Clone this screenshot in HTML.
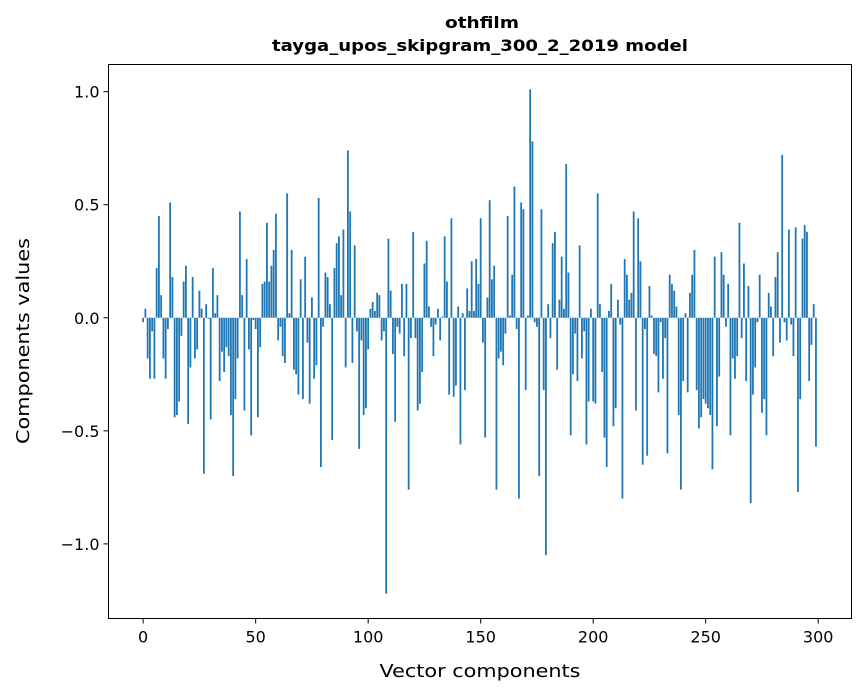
<!DOCTYPE html>
<html><head><meta charset="utf-8"><style>
body{margin:0;background:#fff;}
svg{display:block;font-family:"DejaVu Sans","Liberation Sans",sans-serif;}
</style></head><body>
<svg id="chart" width="867" height="696" viewBox="0 0 867 696" xmlns="http://www.w3.org/2000/svg">
<rect width="867" height="696" fill="#fff"/>
<text x="482" y="28" text-anchor="middle" font-size="16" font-weight="bold" textLength="74" lengthAdjust="spacingAndGlyphs">othfilm</text>
<text x="480" y="51" text-anchor="middle" font-size="16" font-weight="bold" textLength="416" lengthAdjust="spacingAndGlyphs">tayga_upos_skipgram_300_2_2019 model</text>
<g id="bars"></g>
<g id="axes"></g>
<rect x="108.5" y="64.5" width="743" height="554" fill="none" stroke="#000" stroke-width="1"/>
<text x="480" y="677" text-anchor="middle" font-size="18" textLength="201" lengthAdjust="spacingAndGlyphs">Vector components</text>
<text transform="translate(29,341) rotate(-90)" text-anchor="middle" font-size="18" textLength="206" lengthAdjust="spacingAndGlyphs">Components values</text>
</svg>
<script>
const values = [
-0.02,0.04,-0.18,-0.27,-0.06,-0.27,0.22,0.45,0.10,-0.18,
-0.27,-0.05,0.51,0.18,-0.44,-0.43,-0.37,-0.08,0.16,0.23,
-0.47,-0.22,0.18,-0.18,-0.14,0.12,0.04,-0.69,0.06,-0.005,
-0.45,0.22,0.02,0.10,-0.28,-0.15,-0.24,-0.13,-0.17,-0.43,
-0.70,-0.36,-0.18,0.47,0.10,-0.41,0.26,-0.14,-0.52,-0.01,
-0.05,-0.44,-0.13,0.15,0.16,0.42,0.16,0.23,0.30,0.46,
-0.10,-0.04,-0.17,-0.20,0.55,0.02,0.30,-0.23,-0.25,-0.34,
0.17,-0.36,0.27,-0.11,-0.38,0.09,-0.27,-0.21,0.53,-0.66,
-0.04,0.20,0.18,0.06,-0.54,0.22,0.33,0.36,0.10,0.39,
-0.22,0.74,0.47,-0.20,0.32,-0.06,-0.58,-0.10,-0.43,-0.40,
-0.14,0.04,0.07,0.03,0.11,0.10,-0.10,-0.06,-1.22,0.35,
0.12,-0.16,-0.46,-0.04,-0.07,0.15,-0.17,0.15,-0.76,-0.09,
0.38,-0.09,-0.41,-0.38,-0.24,0.24,0.34,0.05,-0.04,-0.17,
-0.03,0.04,-0.10,0.005,0.36,0.16,-0.34,0.44,-0.35,-0.30,
0.05,-0.56,0.02,-0.32,0.13,0.03,0.25,0.03,0.26,0.15,
0.44,-0.11,-0.53,0.09,0.52,0.17,0.23,-0.76,-0.18,-0.15,
-0.21,-0.07,0.45,0.01,0.19,0.58,-0.05,-0.80,0.51,0.48,
-0.32,0.01,1.01,0.78,-0.02,-0.04,-0.70,0.48,-0.32,-1.05,
0.06,-0.09,0.33,0.38,-0.23,0.08,0.27,0.04,0.68,0.20,
-0.52,-0.25,-0.07,-0.28,0.32,-0.18,-0.06,-0.56,-0.37,0.04,
-0.37,-0.38,0.55,0.06,-0.24,-0.53,-0.66,0.03,0.15,-0.48,
-0.40,0.08,-0.03,-0.80,0.26,0.19,0.08,0.11,0.47,-0.41,
0.44,0.25,-0.65,-0.05,-0.61,0.14,0.01,-0.16,-0.17,-0.33,
-0.02,-0.27,-0.09,-0.60,0.19,0.15,0.12,0.05,-0.43,-0.76,
-0.28,0.02,-0.33,0.11,0.19,0.30,-0.32,-0.49,-0.44,-0.36,
-0.38,-0.40,-0.43,-0.67,0.27,-0.48,-0.26,0.29,0.19,-0.04,
0.15,-0.52,-0.18,-0.27,-0.17,0.42,-0.09,0.24,-0.28,0.14,
-0.82,-0.34,-0.22,-0.02,0.19,-0.42,-0.36,-0.52,0.11,0.05,
-0.17,0.18,0.29,-0.11,0.72,-0.02,-0.10,0.39,-0.03,-0.17,
0.40,-0.77,-0.36,0.35,0.41,0.38,-0.28,-0.12,0.06,-0.57
];
const xTicks = [0,50,100,150,200,250,300];
const yTicks = [-1.0,-0.5,0.0,0.5,1.0];
const yTickLabels = ["\u22121.0","\u22120.5","0.0","0.5","1.0"];

const NS = "http://www.w3.org/2000/svg";
const xMin = -15.4, xMax = 314.8, yMin = -1.33, yMax = 1.12;
const L = 108.5, R = 851.5, T = 64.5, B = 618.5;
function xs(v){ return L + (v - xMin) / (xMax - xMin) * (R - L); }
function ys(v){ return B - (v - yMin) / (yMax - yMin) * (B - T); }

const barsG = document.getElementById('bars');
values.forEach(function(v, i){
  const r = document.createElementNS(NS, 'rect');
  const x0 = xs(i - 0.4), x1 = xs(i + 0.4);
  const y0 = ys(Math.max(v, 0)), y1 = ys(Math.min(v, 0));
  r.setAttribute('x', x0);
  r.setAttribute('width', x1 - x0);
  r.setAttribute('y', y0);
  r.setAttribute('height', Math.max(y1 - y0, 0.01));
  r.setAttribute('fill', '#1f77b4');
  
  
  barsG.appendChild(r);
});

const axesG = document.getElementById('axes');
xTicks.forEach(function(t){
  const x = xs(t);
  const l = document.createElementNS(NS, 'line');
  l.setAttribute('x1', x); l.setAttribute('x2', x);
  l.setAttribute('y1', B); l.setAttribute('y2', B + 5);
  l.setAttribute('stroke', '#000');
  
  
  axesG.appendChild(l);
  const tx = document.createElementNS(NS, 'text');
  tx.setAttribute('x', x); tx.setAttribute('y', B + 24);
  tx.setAttribute('text-anchor', 'middle');
  tx.setAttribute('font-size', '16');
  tx.textContent = String(t);
  
  
  axesG.appendChild(tx);
});
yTicks.forEach(function(t, k){
  const y = ys(t);
  const l = document.createElementNS(NS, 'line');
  l.setAttribute('x1', L - 5); l.setAttribute('x2', L);
  l.setAttribute('y1', y); l.setAttribute('y2', y);
  l.setAttribute('stroke', '#000');
  
  
  axesG.appendChild(l);
  const tx = document.createElementNS(NS, 'text');
  tx.setAttribute('x', L - 9); tx.setAttribute('y', y + 6);
  tx.setAttribute('text-anchor', 'end');
  tx.setAttribute('font-size', '16');
  tx.textContent = yTickLabels[k];
  
  
  axesG.appendChild(tx);
});
</script>
</body></html>
